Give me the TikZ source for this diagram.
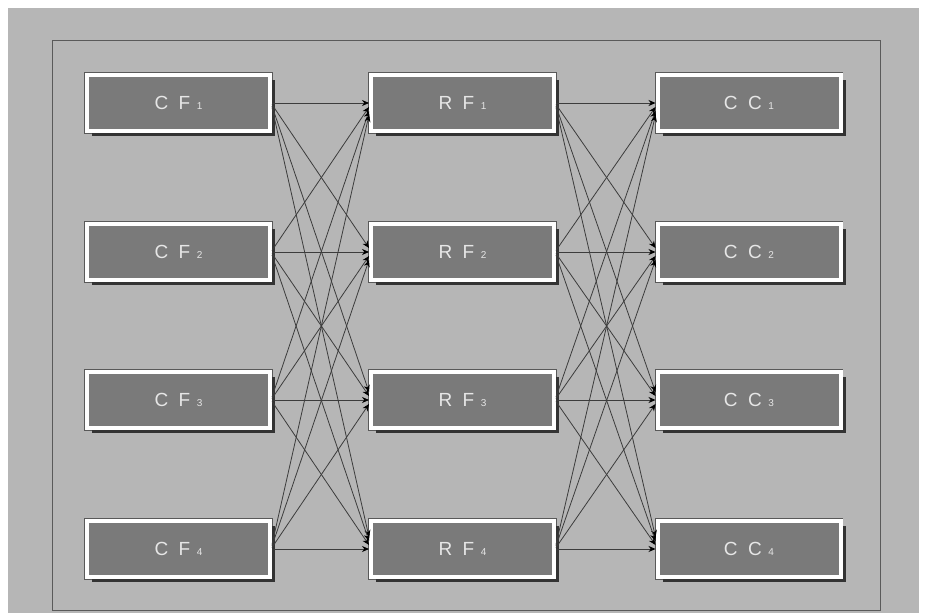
\documentclass[tikz,border=0pt]{standalone}
\usepackage{fontspec}
\setmainfont{Liberation Sans}
\usetikzlibrary{arrows.meta,shadows,calc}
\definecolor{bggray}{RGB}{182,182,182}
\definecolor{boxgray}{RGB}{122,122,122}
\definecolor{framegray}{RGB}{90,90,90}
\definecolor{edgegray}{RGB}{60,60,60}
\definecolor{txtgray}{RGB}{230,230,230}
\newcommand{\boxlbl}[3]{#1\hspace{0.55em}#2\hspace{0.35em}{\fontsize{10}{11}\selectfont #3}}
\tikzset{
  blk/.style={draw=white, line width=4pt, fill=boxgray, minimum width=183pt, minimum height=56pt,
    inner sep=0pt, text=txtgray, font=\fontsize{19}{22}\selectfont,
    preaction={draw=gray!70!black, line width=5.2pt},
    drop shadow={shadow xshift=5pt, shadow yshift=-5pt, fill=black!80, opacity=1}},
  edge/.style={draw=edgegray, line width=0.8pt, -{Stealth[length=7pt,width=6pt,black]}},
}
\begin{document}
\begin{tikzpicture}[x=1pt,y=-1pt]
\useasboundingbox (0,0) rectangle (927,613);
\fill[white] (0,0) rectangle (927,613);
\fill[bggray] (8,8) rectangle (919,613);
\draw[framegray, line width=1pt] (52,40) rectangle (880,610);
\foreach \i/\y in {1/103,2/252,3/400,4/549}{
  \node[blk] (cf\i) at (178.5,\y) {\boxlbl{C}{F}{\i}};
  \node[blk] (rf\i) at (462.5,\y) {\boxlbl{R}{F}{\i}};
  \node[blk] (cc\i) at (749,\y) {\boxlbl{C}{C}{\i}};
}
\foreach \i in {1,...,4}{
  \foreach \j in {1,...,4}{
    \draw[edge] ($(cf\i.east)+(0,{(\j-\i)*1.5})$) -- ($(rf\j.west)+(0,{(\i-\j)*4})$);
    \draw[edge] ($(rf\i.east)+(0,{(\j-\i)*1.5})$) -- ($(cc\j.west)+(0,{(\i-\j)*4})$);
  }
}
\end{tikzpicture}
\end{document}
